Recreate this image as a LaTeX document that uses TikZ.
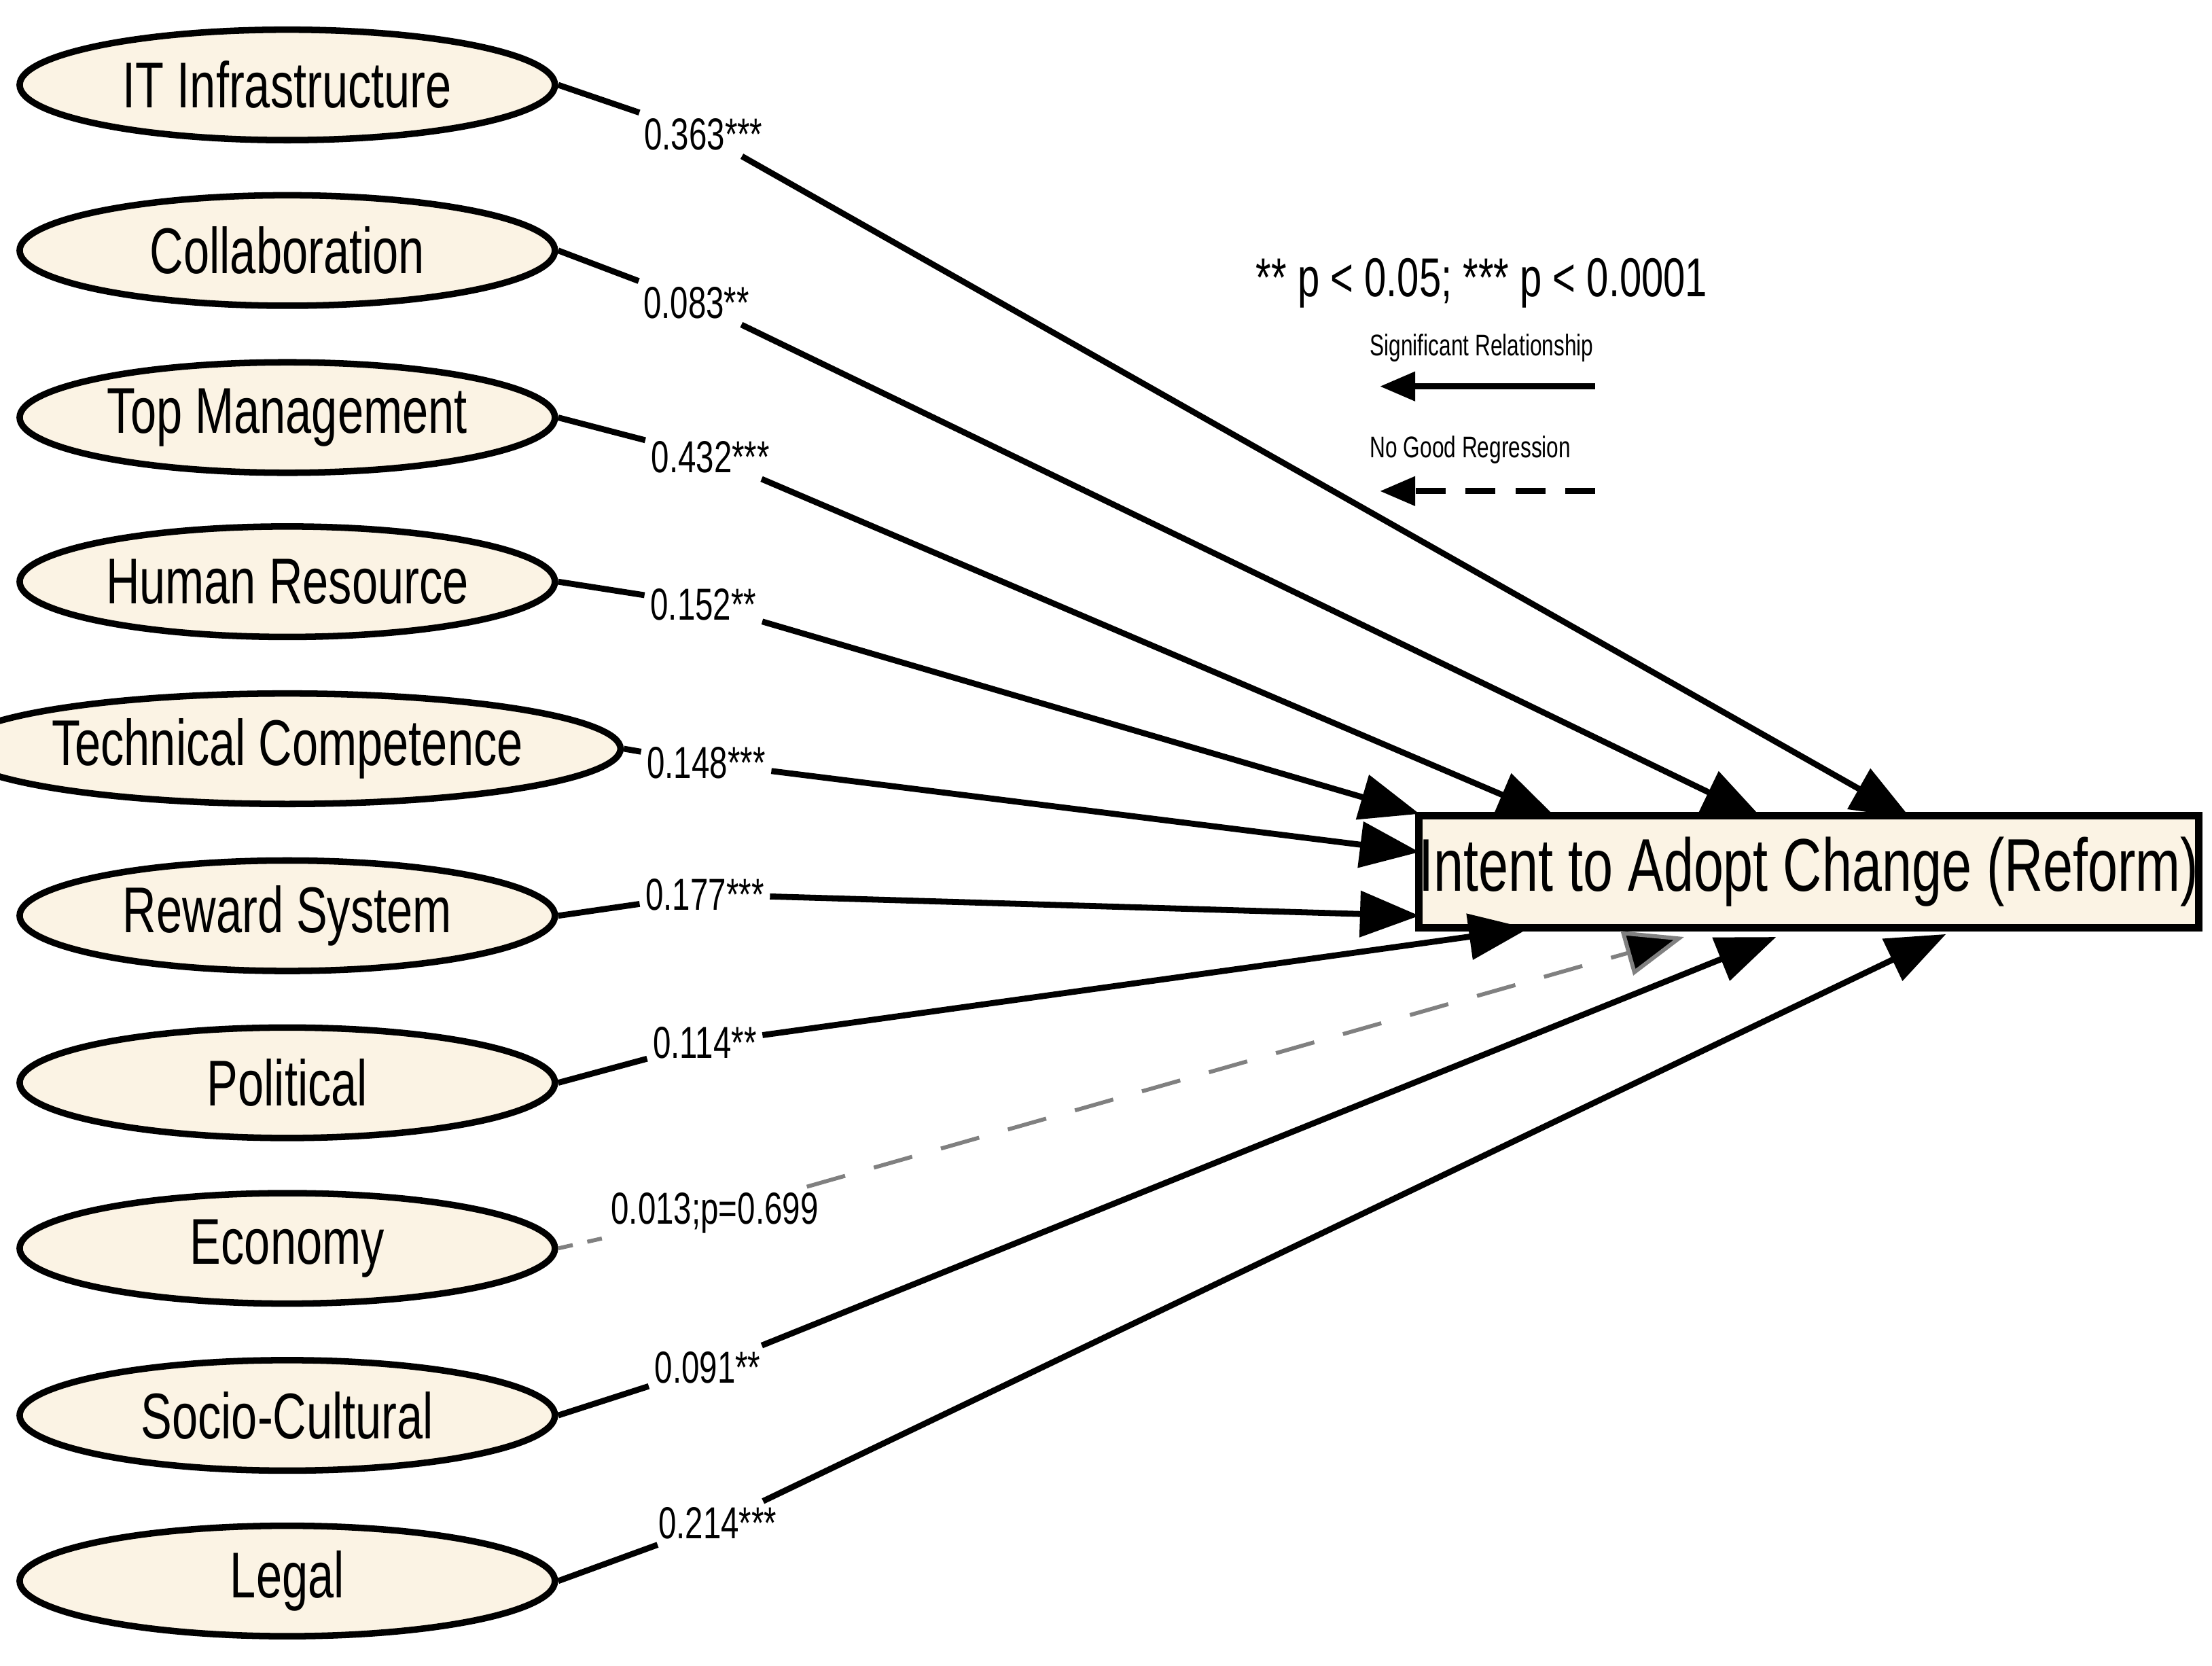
\documentclass[tikz,border=0pt]{standalone}
\usepackage{fontspec}
\setmainfont{Liberation Sans}[FakeStretch=0.72]
\usetikzlibrary{arrows.meta,shapes.geometric}
\definecolor{cream}{HTML}{FBF3E4}
\begin{document}
\begin{tikzpicture}[x=0.01cm,y=-0.01cm,
  el/.style={draw,line width=1.3pt,fill=cream,ellipse,minimum width=3.78cm,minimum height=0.78cm,inner sep=0pt,font=\fontsize{13}{15}\selectfont},
  lab/.style={font=\fontsize{9}{11}\selectfont,inner sep=1pt},
  arr/.style={line width=1.2pt,-{Triangle[length=0.42cm,width=0.32cm]}},
  ]
\useasboundingbox (0,0) rectangle (1563,1177);
\foreach \n/\t/\y in {1/IT Infrastructure/60,2/Collaboration/177,3/Top Management/295,4/Human Resource/411,5/Technical Competence/529,6/Reward System/647,7/Political/765,8/Economy/882,9/Socio-Cultural/1000,10/Legal/1117}
  \node[el] (e\n) at (203,\y) {\t};
\node[draw,line width=1.5pt,fill=cream,minimum width=5.5cm,minimum height=0.79cm,inner sep=0pt,font=\fontsize{15}{17}\selectfont] (box) at (1278,616) {Intent to Adopt Change (Reform)};
\node[lab] (l1) at (497,95) {0.363***};
\node[lab] (l2) at (492,214) {0.083**};
\node[lab] (l3) at (502,323) {0.432***};
\node[lab] (l4) at (497,427) {0.152**};
\node[lab] (l5) at (499,539) {0.148***};
\node[lab] (l6) at (498,632) {0.177***};
\node[lab] (l7) at (498,737) {0.114**};
\node[lab] (l8) at (505,857) {0.013;p=0.699};
\node[lab] (l9) at (500,966) {0.091**};
\node[lab] (l10) at (507,1076) {0.214***};
\coordinate (t1) at (1350,578);
\coordinate (t2) at (1245,578);
\coordinate (t3) at (1100,578);
\coordinate (t4) at (1003,575);
\coordinate (t5) at (1003,602);
\coordinate (t6) at (1003,647);
\coordinate (t7) at (1080,656);
\coordinate (t8) at (1190,662);
\coordinate (t9) at (1255,662);
\coordinate (t10) at (1375,660);
\foreach \i in {1,2,3,4,5,6,7,9,10}{
  \draw[line width=1.2pt] (e\i.east) -- (l\i);
  \draw[arr] (l\i) -- (t\i);
}
\draw[gray,line width=0.8pt,dashed] (e8.east) -- (l8);
\draw[gray,line width=0.8pt,dash pattern=on 8pt off 6pt,-{Triangle[length=0.42cm,width=0.32cm,fill=black]}] (l8) -- (t8);
\node[font=\fontsize{11}{13}\selectfont] (p) at (1047,200) {** p < 0.05; *** p < 0.0001};
\node[font=\fontsize{6}{7}\selectfont] (s) at (1047,246) {Significant Relationship};
\node[font=\fontsize{6}{7}\selectfont] (n) at (1039,318) {No Good Regression};
\coordinate (a1) at (1127,273); \coordinate (b1) at (975,273);
\coordinate (a2) at (1127,347); \coordinate (b2) at (975,347);
\draw[line width=1.2pt,-{Triangle[length=0.25cm,width=0.2cm]}] (a1) -- (b1);
\draw[line width=1.2pt,dash pattern=on 6pt off 4pt,-{Triangle[length=0.25cm,width=0.2cm]}] (a2) -- (b2);
\end{tikzpicture}
\end{document}
